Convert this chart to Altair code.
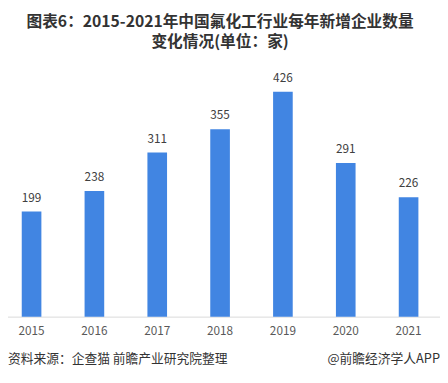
import altair as alt
import pandas as pd

years = ["2015", "2016", "2017", "2018", "2019", "2020", "2021"]
counts = [199, 238, 311, 355, 426, 291, 226]

title_line1 = "图表6：2015-2021年中国氟化工行业每年新增企业数量"
title_line2 = "变化情况(单位：家)"
source_text = "资料来源：企查猫 前瞻产业研究院整理"
brand_text = "@前瞻经济学人APP"

df = pd.DataFrame({"year": years, "count": counts})

FONT = "Noto Sans CJK SC"
W, H = 440, 242

x_enc = alt.X("year:N", sort=years, title=None,
              scale=alt.Scale(range=[-8, 440], paddingInner=0, paddingOuter=0),
              axis=alt.Axis(ticks=False, domainColor="#d9d9d9", domainWidth=1,
                            labelFontSize=12, labelColor="#595959", labelFont=FONT,
                            labelPadding=9, labelAngle=0, grid=False))
y_enc = alt.Y("count:Q", title=None, scale=alt.Scale(domain=[0, 450], nice=False),
              axis=None)

bars = alt.Chart(df).mark_bar(width=20, color="#4185e2").encode(x=x_enc, y=y_enc)

labels = alt.Chart(df).mark_text(fontSize=12, color="#404040", font=FONT,
                                 baseline="middle", dy=-14).encode(
    x=alt.X("year:N", sort=years), y="count:Q", text="count:Q")

one = alt.Data(values=[{"k": 1}])

def title_text(txt, y):
    return alt.Chart(one).mark_text(fontSize=16, fontWeight="bold", color="#333333",
                                    font=FONT, align="center", baseline="middle").encode(
        x=alt.value(216), y=alt.value(y), text=alt.value(txt))

t1 = title_text(title_line1, -58)
t2 = title_text(title_line2, -38)

src = alt.Chart(one).mark_text(fontSize=13, color="#333333", font=FONT,
                               align="left", baseline="middle").encode(
    x=alt.value(0), y=alt.value(285), text=alt.value(source_text))

brand = alt.Chart(one).mark_text(fontSize=13, color="#333333", font=FONT,
                                 align="right", baseline="middle").encode(
    x=alt.value(440), y=alt.value(285), text=alt.value(brand_text))

chart = alt.layer(bars, labels, t1, t2, src, brand).properties(
    width=W, height=H,
    autosize=alt.AutoSizeParams(type="none"),
    padding={"left": 0, "right": 0, "top": 69, "bottom": 50},
    background="white",
).configure_view(stroke=None)

chart.save("out.html", embed_options={"renderer": "svg", "actions": False})
